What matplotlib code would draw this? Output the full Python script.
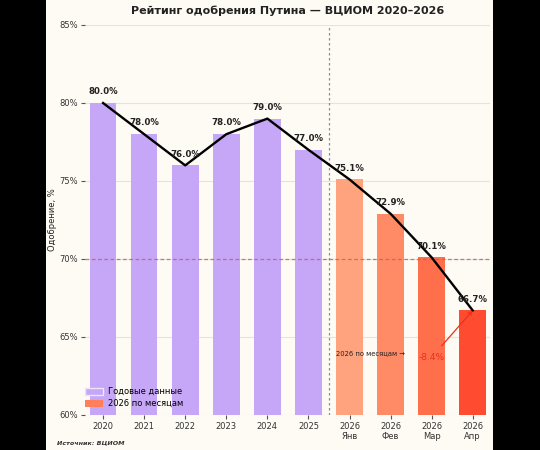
import matplotlib
matplotlib.use("Agg")
import matplotlib.pyplot as plt
from matplotlib.patches import Rectangle

# data
labels = ["2020", "2021", "2022", "2023", "2024", "2025",
          "2026\nЯнв", "2026\nФев", "2026\nМар", "2026\nАпр"]
values = [80.0, 78.0, 76.0, 78.0, 79.0, 77.0, 75.1, 72.9, 70.1, 66.7]
n_years = 6
month_colors = ["#ffa37e", "#ff8a66", "#ff6f4c", "#ff4b30"]
year_color = "#c6a6f7"
change_label = "-8.4%"

bg = "#fdfbf4"
fig = plt.figure(figsize=(5.4, 4.5), dpi=100, facecolor="black")
fig.patches.append(Rectangle((46 / 540, 0), (493 - 46) / 540, 1,
                             transform=fig.transFigure, facecolor=bg, zorder=-5))
ax = fig.add_axes([85 / 540, 1 - 415 / 450, (490 - 85) / 540, (415 - 25) / 450])
ax.set_facecolor(bg)

x = list(range(len(values)))
colors = [year_color] * n_years + month_colors
bars = ax.bar(x, [v - 60 for v in values], bottom=60, width=0.65, color=colors, zorder=2)
ax.plot(x, values, color="black", lw=1.7, zorder=4)

for xi, v in zip(x, values):
    ax.text(xi, v + 0.72, f"{v:.1f}%", ha="center", va="center",
            fontsize=6.2, fontweight="bold", color="#222222", zorder=5)

ax.axvline(n_years - 0.5, color="#8a8f99", ls=(0, (2, 2)), lw=0.9, zorder=3)
ax.axhline(70, color="#c0605a", ls=(0, (3, 2)), lw=0.9, alpha=0.8, zorder=3)

ax.text(6.5, 64.0, "2026 по месяцам →", fontsize=4.9, ha="center", va="center", color="#222222", zorder=5)
ax.annotate(change_label, xy=(9, values[-1]), xytext=(8.0, 63.7),
            fontsize=6.5, color="#e8321e", ha="center", va="center", zorder=5,
            arrowprops=dict(arrowstyle="->", color="#e8321e", lw=0.9, shrinkA=4, shrinkB=0))

ax.set_ylim(60, 85)
ax.set_xlim(-0.44, 9.42)
ax.set_yticks([60, 65, 70, 75, 80, 85])
ax.set_yticklabels([f"{t}%" for t in [60, 65, 70, 75, 80, 85]], fontsize=6, color="#333333")
ax.set_xticks(x)
ax.set_xticklabels(labels, fontsize=6, color="#333333", linespacing=1.1)
ax.tick_params(axis="both", length=3, width=0.8, color="#555555", pad=2)
ax.grid(axis="y", color="#e6e3dc", lw=0.8, zorder=0)
ax.set_axisbelow(True)
for s in ax.spines.values():
    s.set_visible(False)

ax.set_ylabel("Одобрение, %", fontsize=6, color="#222222")
ax.yaxis.set_label_coords(-0.068, 0.5)
ax.set_title("Рейтинг одобрения Путина — ВЦИОМ 2020–2026", fontsize=8,
             fontweight="bold", color="#222222", pad=8)

h1 = Rectangle((0, 0), 1, 1, facecolor=year_color, edgecolor="#ece4fb")
h2 = Rectangle((0, 0), 1, 1, facecolor="#ff7f5a")
ax.legend([h1, h2], ["Годовые данные", "2026 по месяцам"], loc="lower left",
          fontsize=6, frameon=False, handlelength=2.2, handleheight=0.9,
          handletextpad=0.5, borderaxespad=0.2, labelspacing=0.35,
          bbox_to_anchor=(-0.012, 0.005))

fig.text(57 / 540, 1 - 443 / 450, "Источник: ВЦИОМ", fontsize=4.6, style="italic",
         fontweight="bold", color="#333333", va="center")

fig.savefig("out.png", dpi=100, facecolor=fig.get_facecolor())
